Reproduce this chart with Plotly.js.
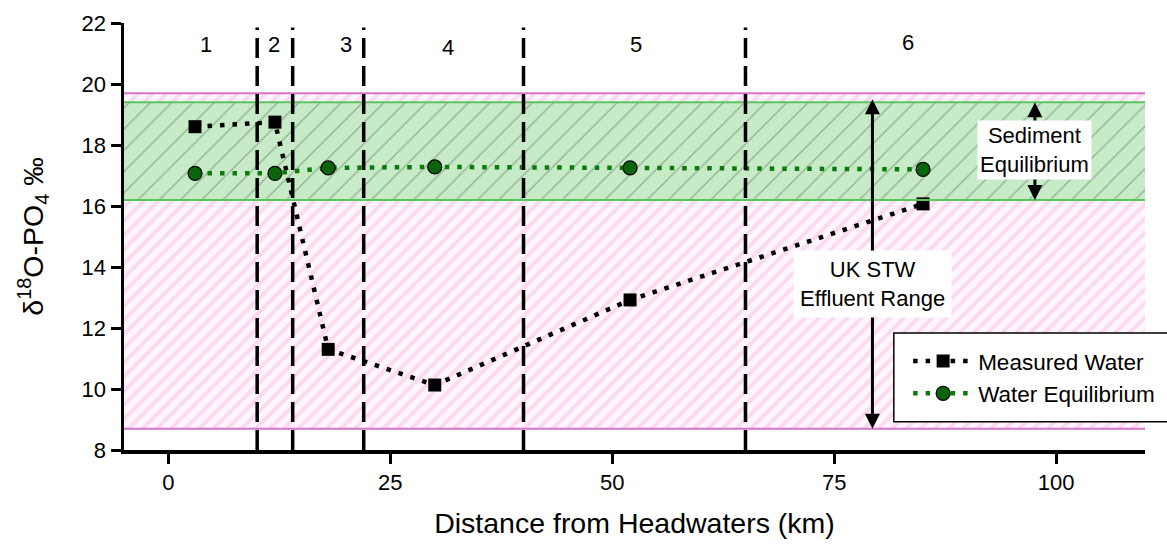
<!DOCTYPE html>
<html>
<head>
<meta charset="utf-8">
<script src="https://cdn.plot.ly/plotly-3.0.1.min.js"></script>
<style>html,body{margin:0;padding:0;background:#fff;}#chart{width:1167px;height:547px;}</style>
</head>
<body>
<div id="chart"></div>
<script>
// ---- data ----
const distance = [3, 12, 18, 30, 52, 85];
const measuredWater = [18.6, 18.75, 11.3, 10.13, 12.92, 16.07];
const waterEquilibrium = [17.07, 17.07, 17.25, 17.28, 17.25, 17.2];
const zoneBoundaries = [10, 14, 22, 40, 65];
const zoneLabels = ['1', '2', '3', '4', '5', '6'];
const zoneLabelX = [4.2, 11.9, 20.0, 31.5, 52.7, 83.3];
const zoneLabelY = [21.3, 21.3, 21.3, 21.2, 21.3, 21.35];
const effluentRange = [8.7, 19.7];
const sedimentRange = [16.2, 19.4];
const xRange = [-5, 110];
const yRange = [8, 22];
const xTicks = [0, 25, 50, 75, 100];
const effluentArrowX = 79.3;
const sedimentArrowX = 97.6;

function band(r) {
  return {
    x: [xRange[0], xRange[1], xRange[1], xRange[0], xRange[0]],
    y: [r[0], r[0], r[1], r[1], r[0]]
  };
}
const pinkBand = band(effluentRange);
const greenBand = band(sedimentRange);

const FONT = 'Liberation Sans, Arial, sans-serif';

const traces = [
  {
    x: pinkBand.x, y: pinkBand.y, mode: 'lines', fill: 'toself',
    line: {width: 0, color: 'rgba(0,0,0,0)'},
    fillcolor: '#fef6fc',
    fillpattern: {shape: '/', bgcolor: '#fef6fc', fgcolor: '#fbdaf1', size: 10, solidity: 0.4},
    showlegend: false, hoverinfo: 'skip'
  },
  {
    x: greenBand.x, y: greenBand.y, mode: 'lines', fill: 'toself',
    line: {width: 0, color: 'rgba(0,0,0,0)'},
    fillcolor: '#c7ebc7',
    fillpattern: {shape: '/', bgcolor: '#c7ebc7', fgcolor: '#95b595', size: 15, solidity: 0.1},
    showlegend: false, hoverinfo: 'skip'
  },
  {
    x: distance, y: measuredWater, name: 'Measured Water', mode: 'lines+markers',
    line: {color: '#000', width: 4.5, dash: '4.5px,8px'},
    marker: {symbol: 'square', size: 13, color: '#000'}
  },
  {
    x: distance, y: waterEquilibrium, name: 'Water Equilibrium', mode: 'lines+markers',
    line: {color: '#0a7a0a', width: 4.5, dash: '4.5px,8px'},
    marker: {symbol: 'circle', size: 14, color: '#0a640a', line: {color: '#000', width: 1.2}}
  }
];

const shapes = [];
// band edge lines
[effluentRange[0], effluentRange[1]].forEach(v => shapes.push({
  type: 'line', xref: 'x', yref: 'y', x0: xRange[0], x1: xRange[1], y0: v, y1: v,
  line: {color: '#d874c8', width: 2}, layer: 'above'
}));
[sedimentRange[0], sedimentRange[1]].forEach(v => shapes.push({
  type: 'line', xref: 'x', yref: 'y', x0: xRange[0], x1: xRange[1], y0: v, y1: v,
  line: {color: '#5cc45c', width: 2}, layer: 'above'
}));
zoneBoundaries.forEach(v => shapes.push({
  type: 'line', xref: 'x', yref: 'y', x0: v, x1: v, y0: yRange[0], y1: 21.85,
  line: {color: '#000', width: 3.5, dash: '20px,8px'}, layer: 'above'
}));
// legend frame
shapes.push({
  type: 'rect', xref: 'paper', yref: 'paper', x0: 0.754, x1: 1.06, y0: 0.066, y1: 0.274,
  fillcolor: '#fff', line: {color: '#000', width: 1.5}, layer: 'above'
});

const annotations = [];
zoneLabels.forEach((t, i) => annotations.push({
  x: zoneLabelX[i], y: zoneLabelY[i], xref: 'x', yref: 'y', text: t, showarrow: false,
  font: {family: FONT, size: 22, color: '#000'}
}));
const effMid = 13.45, sedMid = 17.84;
// arrows
[[effluentArrowX, effluentRange[1] - 0.2, effMid], [effluentArrowX, effluentRange[0], effMid],
 [sedimentArrowX, sedimentRange[1], sedMid], [sedimentArrowX, sedimentRange[0], sedMid]].forEach(a => annotations.push({
  x: a[0], y: a[1], ax: a[0], ay: a[2], xref: 'x', yref: 'y', axref: 'x', ayref: 'y',
  text: '', showarrow: true, arrowhead: 2, arrowsize: 1, arrowwidth: 3, arrowcolor: '#000'
}));
annotations.push({
  x: effluentArrowX, y: effMid, xref: 'x', yref: 'y', text: 'UK STW<br>Effluent Range',
  showarrow: false, bgcolor: '#fff', borderpad: 6,
  font: {family: FONT, size: 22, color: '#000'}
});
annotations.push({
  x: sedimentArrowX, y: sedMid, xref: 'x', yref: 'y', text: 'Sediment<br>Equilibrium',
  showarrow: false, bgcolor: '#fff', borderpad: 2,
  font: {family: FONT, size: 22, color: '#000'}
});

const layout = {
  width: 1167, height: 547,
  margin: {l: 124, r: 22, t: 23, b: 97, autoexpand: false},
  paper_bgcolor: '#fff', plot_bgcolor: '#fff',
  font: {family: FONT, color: '#000', size: 22},
  xaxis: {
    range: xRange, tickvals: xTicks, showgrid: false, zeroline: false,
    showline: true, linewidth: 3.5, linecolor: '#000',
    ticks: 'outside', ticklen: 10, tickwidth: 3, tickcolor: '#000',
    tickfont: {size: 22},
    title: {text: 'Distance from Headwaters (km)', font: {size: 28.5}, standoff: 20}
  },
  yaxis: {
    range: yRange, dtick: 2, tick0: 8, showgrid: false, zeroline: false,
    showline: true, linewidth: 3.5, linecolor: '#000',
    ticks: 'outside', ticklen: 10, tickwidth: 3, tickcolor: '#000',
    tickfont: {size: 22},
    title: {text: 'δ<sup>18</sup>O-PO<sub>4</sub> ‰', font: {size: 28.5}, standoff: 30}
  },
  legend: {
    x: 0.768, y: 0.17, xanchor: 'left', yanchor: 'middle',
    bgcolor: 'rgba(0,0,0,0)', borderwidth: 0,
    font: {size: 22.5}, itemwidth: 60, tracegroupgap: 0
  },
  shapes: shapes,
  annotations: annotations,
  showlegend: true
};

Plotly.newPlot('chart', traces, layout, {staticPlot: true, displayModeBar: false});
</script>
</body>
</html>
